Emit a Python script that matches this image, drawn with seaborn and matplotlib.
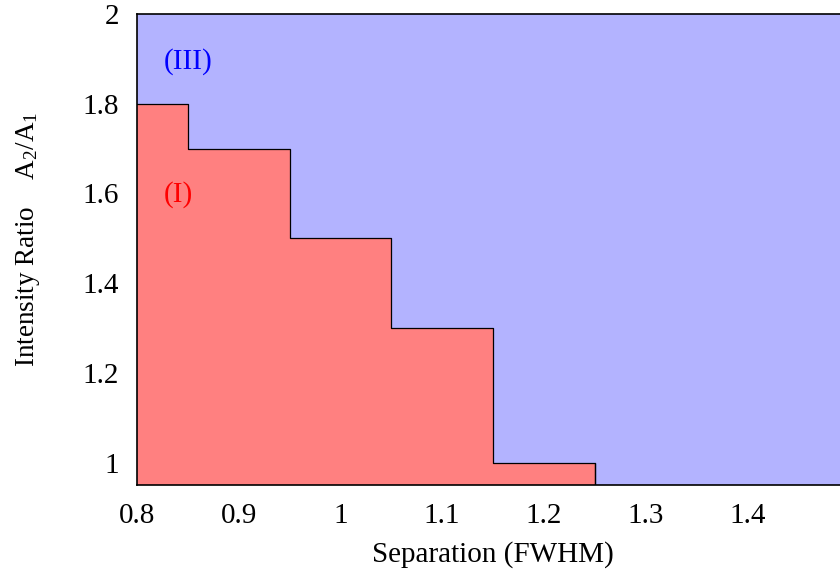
import matplotlib
matplotlib.use("Agg")
import matplotlib.pyplot as plt
import seaborn as sns
import pandas as pd

# Data: boundary of region (I) (step function, post-style)
separation = [0.80, 0.85, 0.95, 1.05, 1.15, 1.25]
ratio_limit = [1.80, 1.70, 1.50, 1.30, 1.00, 0.95]
x_ticks = [0.8, 0.9, 1.0, 1.1, 1.2, 1.3, 1.4]
x_tick_labels = ["0.8", "0.9", "1", "1.1", "1.2", "1.3", "1.4"]
y_ticks = [1.0, 1.2, 1.4, 1.6, 1.8, 2.0]
y_tick_labels = ["1", "1.2", "1.4", "1.6", "1.8", "2"]
region_labels = ["(III)", "(I)"]

sns.set_theme(style="white")
plt.rcParams['font.family'] = ['Liberation Serif', 'DejaVu Serif']
plt.rcParams['mathtext.fontset'] = 'custom'
plt.rcParams['mathtext.rm'] = 'Liberation Serif'
plt.rcParams['mathtext.it'] = 'Liberation Serif'

FS = 21

df = pd.DataFrame({"sep": separation, "ratio": ratio_limit})

fig = plt.figure(figsize=(8.40, 5.73), dpi=100)
ax = fig.add_axes([137/840, 88/573, 712/840, 471/573])
ax.set_facecolor("#b3b3ff")

ax.fill_between(df["sep"], 0.95, df["ratio"], step="post",
                facecolor="#ff8080", edgecolor="none", zorder=1)
sns.lineplot(data=df, x="sep", y="ratio", drawstyle="steps-post",
             color="black", linewidth=0.9, ax=ax, zorder=2)
ax.plot([separation[-1], separation[-1]], [ratio_limit[-2], ratio_limit[-1]],
        color="black", linewidth=0.9, zorder=2)

ax.set_xlim(0.8, 1.5)
ax.set_ylim(0.95, 2.0)
ax.set_xticks(x_ticks)
ax.set_xticklabels(x_tick_labels)
ax.set_yticks(y_ticks)
ax.set_yticklabels(y_tick_labels)
ax.tick_params(axis="both", length=0, labelsize=FS, colors="black")
ax.tick_params(axis="x", pad=13)
ax.tick_params(axis="y", pad=13)

for s in ax.spines.values():
    s.set_color("black")
    s.set_linewidth(1.2)

ax.set_xlabel("Separation (FWHM)", fontsize=FS, color="black", labelpad=9)
ax.set_ylabel(r"Intensity Ratio    A$_2$/A$_1$", fontsize=19.5, color="black")
ax.yaxis.set_label_coords(-0.133, 0.522)

ax.text(0.826, 1.895, region_labels[0], color="#0000ff", fontsize=FS,
        ha="left", va="center")
ax.text(0.826, 1.598, region_labels[1], color="#ff0000", fontsize=FS,
        ha="left", va="center")

fig.savefig("out.png", dpi=100)
